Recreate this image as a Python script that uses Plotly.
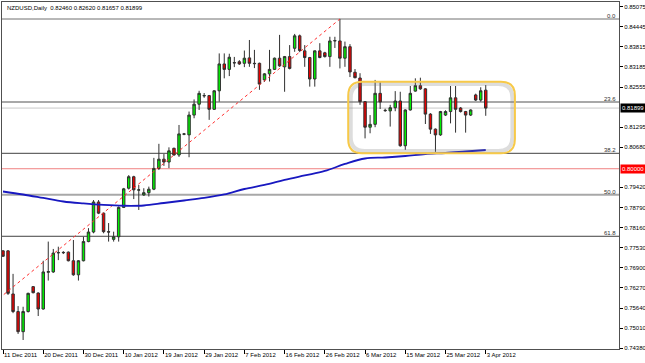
import datetime as dt
import plotly.graph_objects as go

# ---------------- data ----------------
# trading days (Sun-Fri bars, no bars on 25 Dec / 1 Jan)
start = dt.date(2011, 12, 11)
holidays = {dt.date(2011, 12, 25), dt.date(2012, 1, 1)}
dates = []
d = start
while len(dates) < 97:
    if d.weekday() != 5 and d not in holidays:
        dates.append(d)
    d += dt.timedelta(days=1)

open_ = [0.7743, 0.7743, 0.7608, 0.7553, 0.7490, 0.7553, 0.7631, 0.7611, 0.7561, 0.7676,
         0.7677, 0.7738, 0.7737, 0.7739, 0.7712, 0.7668, 0.7712, 0.7772, 0.7802, 0.7896,
         0.7861, 0.7803, 0.7779, 0.7787, 0.7879, 0.7939, 0.7975, 0.7933, 0.7918, 0.7925,
         0.7936, 0.8001, 0.8030, 0.8021, 0.8064, 0.8043, 0.8108, 0.8106, 0.8168, 0.8202,
         0.8228, 0.8229, 0.8186, 0.8244, 0.8328, 0.8311, 0.8331, 0.8335, 0.8330, 0.8347,
         0.8330, 0.8330, 0.8278, 0.8297, 0.8311, 0.8346, 0.8319, 0.8351, 0.8377, 0.8416,
         0.8369, 0.8348, 0.8281, 0.8369, 0.8363, 0.8351, 0.8400, 0.8400, 0.8346, 0.8382,
         0.8302, 0.8284, 0.8210, 0.8130, 0.8139, 0.8236, 0.8183, 0.8181, 0.8191, 0.8212,
         0.8072, 0.8184, 0.8243, 0.8260, 0.8250, 0.8171, 0.8124, 0.8106, 0.8168, 0.8179,
         0.8222, 0.8190, 0.8179, 0.8168, 0.8231, 0.8215, 0.82460]
high = [0.7745, 0.7745, 0.7671, 0.7570, 0.7568, 0.7612, 0.7633, 0.7613, 0.7712, 0.7772,
        0.7749, 0.7756, 0.7742, 0.7741, 0.7777, 0.7714, 0.7787, 0.7814, 0.7902, 0.7902,
        0.7863, 0.7830, 0.7803, 0.7882, 0.7940, 0.7980, 0.7978, 0.7949, 0.7939, 0.7944,
        0.8034, 0.8078, 0.8046, 0.8067, 0.8066, 0.8137, 0.8112, 0.8179, 0.8217, 0.8244,
        0.8237, 0.8231, 0.8246, 0.8361, 0.8361, 0.8360, 0.8350, 0.8340, 0.8370, 0.8403,
        0.8372, 0.8332, 0.8299, 0.8372, 0.8348, 0.8419, 0.8353, 0.8387, 0.8422, 0.8420,
        0.8387, 0.8350, 0.8370, 0.8393, 0.8366, 0.8413, 0.8413, 0.8469, 0.8398, 0.8390,
        0.8312, 0.8299, 0.8212, 0.8168, 0.8278, 0.8273, 0.8188, 0.8200, 0.8243, 0.8241,
        0.8186, 0.8259, 0.8283, 0.8285, 0.8252, 0.8174, 0.8126, 0.8181, 0.8183, 0.8259,
        0.8259, 0.8193, 0.8181, 0.8186, 0.8235, 0.8255, 0.82620]
low = [0.7724, 0.7605, 0.7548, 0.7483, 0.7464, 0.7550, 0.7610, 0.7539, 0.7559, 0.7650,
       0.7674, 0.7714, 0.7733, 0.7710, 0.7665, 0.7650, 0.7710, 0.7770, 0.7798, 0.7858,
       0.7798, 0.7772, 0.7772, 0.7772, 0.7877, 0.7935, 0.7905, 0.7871, 0.7915, 0.7913,
       0.7933, 0.7996, 0.8009, 0.8002, 0.8041, 0.8037, 0.8105, 0.8036, 0.8158, 0.8184,
       0.8222, 0.8153, 0.8184, 0.8210, 0.8283, 0.8290, 0.8318, 0.8325, 0.8318, 0.8319,
       0.8315, 0.8247, 0.8272, 0.8273, 0.8309, 0.8319, 0.8241, 0.8311, 0.8366, 0.8365,
       0.8319, 0.8257, 0.8257, 0.8346, 0.8348, 0.8319, 0.8378, 0.8314, 0.8319, 0.8287,
       0.8283, 0.8200, 0.8095, 0.8111, 0.8130, 0.8187, 0.8178, 0.8132, 0.8180, 0.8069,
       0.8059, 0.8182, 0.8241, 0.8247, 0.8140, 0.8109, 0.8053, 0.8103, 0.8165, 0.8142,
       0.8113, 0.8176, 0.8113, 0.8165, 0.8212, 0.8210, 0.81657]
close = [0.7726, 0.7610, 0.7553, 0.7490, 0.7553, 0.7610, 0.7612, 0.7561, 0.7677, 0.7678,
         0.7736, 0.7737, 0.7738, 0.7712, 0.7668, 0.7712, 0.7772, 0.7802, 0.7896, 0.7861,
         0.7803, 0.7802, 0.7787, 0.7879, 0.7937, 0.7975, 0.7934, 0.7934, 0.7925, 0.7936,
         0.8001, 0.8030, 0.8021, 0.8056, 0.8043, 0.8109, 0.8109, 0.8168, 0.8202, 0.8236,
         0.8229, 0.8186, 0.8244, 0.8328, 0.8311, 0.8349, 0.8332, 0.8328, 0.8346, 0.8330,
         0.8329, 0.8265, 0.8297, 0.8311, 0.8346, 0.8322, 0.8351, 0.8314, 0.8416, 0.8370,
         0.8348, 0.8281, 0.8369, 0.8348, 0.8351, 0.8400, 0.8401, 0.8346, 0.8382, 0.8303,
         0.8285, 0.8210, 0.8130, 0.8139, 0.8236, 0.8209, 0.8182, 0.8191, 0.8212, 0.8072,
         0.8184, 0.8236, 0.8260, 0.8250, 0.8171, 0.8124, 0.8106, 0.8179, 0.8179, 0.8222,
         0.8186, 0.8179, 0.8168, 0.8184, 0.8215, 0.8244, 0.81899]

# moving average (read every 4th bar)
ma_idx = list(range(0, 97, 4))
ma_val = [0.79288, 0.79194, 0.79085, 0.78975, 0.78913, 0.78866, 0.78841, 0.78850, 0.78928,
          0.79006, 0.79085, 0.79194, 0.79366, 0.79492, 0.79648, 0.79789, 0.79930, 0.80149,
          0.80321, 0.80352, 0.80399, 0.80462, 0.80493, 0.80540, 0.80587]

# fibonacci retracement
fib_labels = ["0.0", "23.6", "38.2", "50.0", "61.8"]
fib_levels = [0.84687, 0.82090, 0.80483, 0.79185, 0.77886]
fib_anchor_idx = [-18.3, 67]
fib_anchor_px = [0.73682, 0.84687]

bid = 0.81899
level_red = 0.80000

ytick_vals = [0.85075, 0.84445, 0.83815, 0.83185, 0.82555, 0.81295, 0.80680, 0.79420,
              0.78790, 0.78160, 0.77530, 0.76900, 0.76270, 0.75640, 0.75010, 0.74380]

# consolidation box (bar index / price)
box_x = [68.65, 101.8]
box_y = [0.80484, 0.82725]

title_text = "NZDUSD,Daily  0.82460 0.82620 0.81657 0.81899"

# ---------------- figure ----------------
FONT = "Liberation Sans"
FS = 6
xs = list(range(len(dates)))
fig = go.Figure()

# horizontal lines
hl = [(fib_levels[0], "#707070", 1), (fib_levels[1], "#A8A8A8", 2), (fib_levels[2], "#404040", 1),
      (fib_levels[3], "#A8A8A8", 2), (fib_levels[4], "#404040", 1),
      (bid, "#C8C8C8", 1), (level_red, "#F08080", 1)]
for yv, col, w in hl:
    fig.add_shape(type="line", xref="paper", x0=0, x1=1, yref="y", y0=yv, y1=yv,
                  line=dict(color=col, width=w), layer="below")

# fib trend line
fig.add_trace(go.Scatter(x=fib_anchor_idx, y=fib_anchor_px, mode="lines",
                         line=dict(color="#FF3030", width=1, dash="dot"), hoverinfo="skip"))

# moving average
fig.add_trace(go.Scatter(x=ma_idx, y=ma_val, mode="lines", line=dict(color="#1818C0", width=1.8, shape="spline"),
                         hoverinfo="skip"))

# candles
fig.add_trace(go.Candlestick(x=xs, open=open_, high=high, low=low, close=close,
                             increasing=dict(line=dict(color="#303030", width=1), fillcolor="#00F000"),
                             decreasing=dict(line=dict(color="#303030", width=1), fillcolor="#E80000"),
                             whiskerwidth=0))

# rounded box
x0, x1 = box_x
y0, y1 = box_y
rx = 14 / 5.03
ry = 14 * 0.000313
def rpath(x0, x1, y0, y1):
    return (f"M {x0+rx},{y0} L {x1-rx},{y0} Q {x1},{y0} {x1},{y0+ry} L {x1},{y1-ry} "
            f"Q {x1},{y1} {x1-rx},{y1} L {x0+rx},{y1} Q {x0},{y1} {x0},{y1-ry} "
            f"L {x0},{y0+ry} Q {x0},{y0} {x0+rx},{y0} Z")
fig.add_shape(type="path", path=rpath(x0 + 0.5, x1 - 0.5, y0 + 0.0007, y1 - 0.0007),
              line=dict(color="rgba(120,120,120,0.25)", width=4))
fig.add_shape(type="path", path=rpath(x0, x1, y0, y1), line=dict(color="#F7C948", width=2))

# fib labels
for lab, yv in zip(fib_labels, fib_levels):
    fig.add_annotation(x=1, xref="paper", y=yv, yref="y", text=lab, showarrow=False,
                       xanchor="right", yanchor="bottom", font=dict(family=FONT, size=FS, color="#303030"),
                       xshift=-1, yshift=-2)

# price boxes on axis
for yv, bg in [(bid, "#000000"), (level_red, "#FF0000")]:
    fig.add_annotation(x=1, xref="paper", y=yv, yref="y", text=f"{yv:.5f}", showarrow=False,
                       xanchor="left", yanchor="middle", bgcolor=bg, borderpad=1,
                       font=dict(family=FONT, size=FS, color="#FFFFFF"), xshift=1)

fig.add_annotation(x=0, xref="paper", y=1, yref="paper", text=title_text, showarrow=False,
                   xanchor="left", yanchor="top", font=dict(family=FONT, size=FS, color="#000000"),
                   xshift=3, yshift=-1)

tick_idx = list(range(0, len(dates), 8))
fig.update_layout(
    width=645, height=363, margin=dict(l=2, r=26, t=2, b=14),
    paper_bgcolor="#FFFFFF", plot_bgcolor="#FFFFFF", showlegend=False,
    font=dict(family=FONT, size=FS, color="#000000"),
    xaxis=dict(range=[-0.2, 122.5], rangeslider=dict(visible=False), showgrid=False, zeroline=False,
               automargin=False, tickangle=0,
               tickvals=tick_idx, ticktext=[dates[i].strftime("%-d %b %Y") for i in tick_idx],
               ticks="outside", ticklen=4, tickcolor="#000000", ticklabelposition="outside right",
               showline=True, mirror=True, linecolor="#505050", linewidth=1,
               tickfont=dict(family=FONT, size=FS)),
    yaxis=dict(side="right", range=[0.74358, 0.85219], showgrid=False, zeroline=False,
               automargin=False,
               tickvals=ytick_vals, ticktext=[f"{v:.5f}" for v in ytick_vals],
               ticks="outside", ticklen=3, tickcolor="#000000",
               showline=True, mirror=True, linecolor="#505050", linewidth=1,
               tickfont=dict(family=FONT, size=FS)),
)

fig.write_html("out.html", config={"staticPlot": True, "displayModeBar": False},
               post_script="document.body.style.margin='0';document.body.style.overflow='hidden';")
